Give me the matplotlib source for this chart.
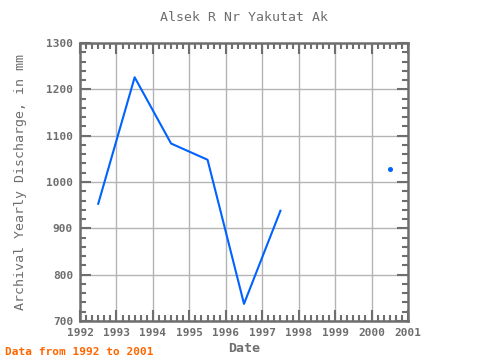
import numpy as np
import matplotlib
matplotlib.use("Agg")
import matplotlib.pyplot as plt
from matplotlib.ticker import MultipleLocator

years = [1992.5, 1993.5, 1994.5, 1995.5, 1996.5, 1997.5, 1998.5, 1999.5, 2000.5]
discharge = [953, 1226, 1083, 1048, 737, 938, np.nan, np.nan, 1029]
xticks = [1992, 1993, 1994, 1995, 1996, 1997, 1998, 1999, 2000, 2001]
yticks = [700, 800, 900, 1000, 1100, 1200, 1300]

title = "Alsek R Nr Yakutat Ak"
ylabel = "Archival Yearly Discharge, in mm"
xlabel = "Date"
footer = "Data from 1992 to 2001"

gray = "#6e6e6e"
blue = "#0062ff"
font = "DejaVu Sans Mono"

fig = plt.figure(figsize=(4.8, 3.6), dpi=100)
ax = fig.add_axes([80/480, 39/360, 328/480, 278/360])

x = np.array(years)
y = np.array(discharge, dtype=float)
ax.plot(x, y, color=blue, lw=1.5, zorder=3)
# isolated points (neighbours missing) as markers
valid = ~np.isnan(y)
iso = []
for i in range(len(y)):
    if valid[i]:
        left = i > 0 and valid[i-1]
        right = i < len(y)-1 and valid[i+1]
        if not left and not right:
            iso.append(i)
ax.plot(x[iso], y[iso], ls="none", marker="o", ms=2.6, color=blue, zorder=3)

ax.set_xlim(1992, 2001)
ax.set_ylim(700, 1300)
ax.set_xticks(xticks)
ax.set_yticks(yticks)
ax.xaxis.set_minor_locator(MultipleLocator(1/6))
ax.yaxis.set_minor_locator(MultipleLocator(20))
ax.grid(True, which="major", color="#b4b4b4", lw=1.0, zorder=1)

for s in ax.spines.values():
    s.set_color(gray)
    s.set_linewidth(1.8)

ax.tick_params(which="both", direction="in", top=True, right=True, color=gray,
               labelcolor=gray)
ax.tick_params(which="major", length=8, width=1.5, labelsize=8, pad=5)
ax.tick_params(which="minor", length=4, width=1.5)
for lab in ax.get_xticklabels() + ax.get_yticklabels():
    lab.set_family(font)
    lab.set_fontweight("bold")

ax.set_title(title, family=font, fontsize=9.5, color=gray, pad=16)
ax.set_ylabel(ylabel, family=font, fontsize=9.5, color=gray, labelpad=14)
ax.set_xlabel(xlabel, family=font, fontsize=9.5, color=gray, fontweight="bold", labelpad=3)
fig.text(5/480, 1 - 352/360, footer, family=font, fontsize=8, color="#ff6600",
         fontweight="bold", va="center", ha="left")

fig.savefig("out.png", dpi=100)
